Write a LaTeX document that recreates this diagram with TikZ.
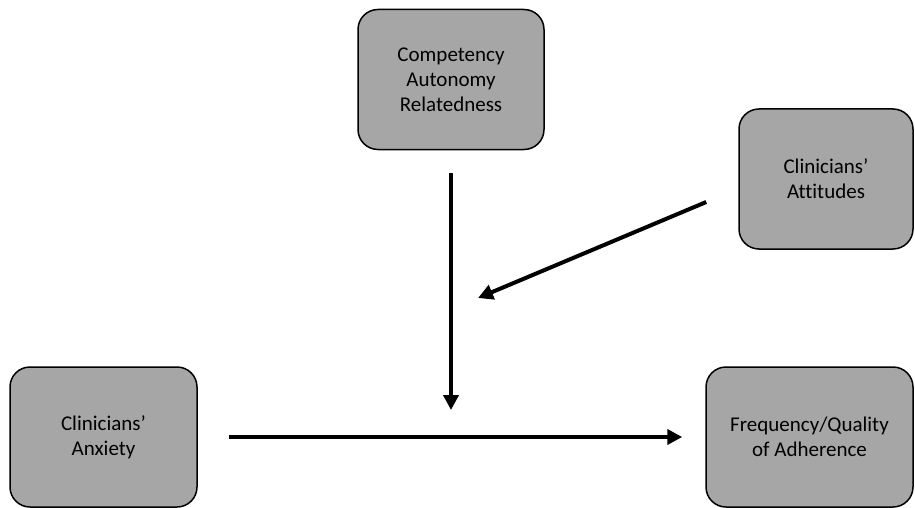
\documentclass[tikz,border=0pt]{standalone}
\usepackage{fontspec}
\setmainfont{Carlito}[Ligatures=NoCommon]
\usepackage{tikz}
\usetikzlibrary{arrows.meta,calc}
\usepackage{xcolor}
\definecolor{boxgray}{RGB}{166,166,166}

\begin{document}
\begin{tikzpicture}[
    x=1pt, y=-1pt,
    every node/.style={font=\fontsize{21}{25}\selectfont},
    factorNode/.style={rectangle, draw=black, fill=boxgray, line width=1.5pt, rounded corners=20pt, minimum height=140pt, align=center},
    pathEdge/.style={draw=black, line width=4pt, -{Triangle[length=15pt,width=15pt]}}
]
    \useasboundingbox (0,0) rectangle (915,508);

    \node [factorNode, minimum width=186pt] (sdt) at (451,79.5) {Competency\\Autonomy\\Relatedness};
    \node [factorNode, minimum width=174pt] (attitudes) at (826,179) {Clinicians’\\Attitudes};
    \node [factorNode, minimum width=187pt] (anxiety) at (103.5,437) {Clinicians’\\Anxiety};
    \node [factorNode, minimum width=207pt] (adherence) at (809.5,437) {Frequency/Quality\\of Adherence};

    \coordinate (modPoint) at (451,437);
    \coordinate (modTarget) at (478,298);

    \path [pathEdge, shorten <=23pt, shorten >=27pt] (sdt.south) -- (modPoint);
    \path [pathEdge] ($(attitudes.west)+(-32,23)$) -- (modTarget);
    \path [pathEdge, shorten <=31pt, shorten >=23pt] (anxiety.east) -- (adherence.west);
\end{tikzpicture}
\end{document}
